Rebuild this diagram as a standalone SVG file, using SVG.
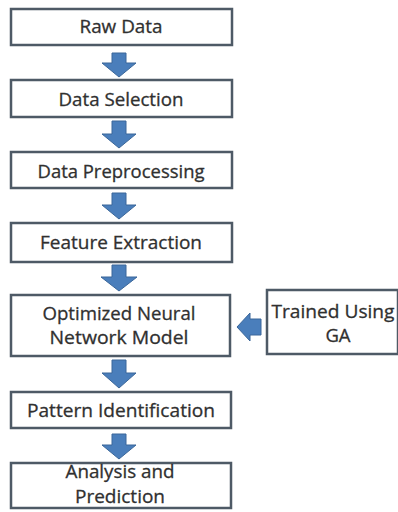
<svg xmlns="http://www.w3.org/2000/svg" width="398" height="512" viewBox="0 0 398 512">
<style>
.box{fill:#ffffff;stroke:#4e5a66;stroke-width:2.5}
.lbl{font-family:"Open Sans","Noto Sans","Liberation Sans",sans-serif;font-size:18.5px;fill:#303030;text-anchor:middle;stroke:#303030;stroke-width:0.3}
.arr{fill:#4a7ebb;stroke:#3b679a;stroke-width:1}
</style>
<rect width="398" height="512" fill="#ffffff"/>
<g id="raw-data">
<rect class="box" x="11" y="9" width="221" height="36"/>
<text class="lbl" x="121" y="33" textLength="83" lengthAdjust="spacingAndGlyphs">Raw Data</text>
</g>
<g id="data-selection">
<rect class="box" x="11" y="80" width="221" height="37"/>
<text class="lbl" x="121" y="106" textLength="125" lengthAdjust="spacingAndGlyphs">Data Selection</text>
</g>
<g id="data-preprocessing">
<rect class="box" x="11" y="152" width="221" height="36"/>
<text class="lbl" x="121" y="178" textLength="167" lengthAdjust="spacingAndGlyphs">Data Preprocessing</text>
</g>
<g id="feature-extraction">
<rect class="box" x="11" y="223" width="221" height="39"/>
<text class="lbl" x="121" y="249" textLength="162" lengthAdjust="spacingAndGlyphs">Feature Extraction</text>
</g>
<g id="optimized-nn">
<rect class="box" x="11" y="295" width="219" height="61"/>
<text class="lbl" x="119" y="320" textLength="153" lengthAdjust="spacingAndGlyphs">Optimized Neural</text>
<text class="lbl" x="119" y="344" textLength="139" lengthAdjust="spacingAndGlyphs">Network Model</text>
</g>
<g id="trained-ga">
<rect class="box" x="267" y="290" width="131" height="64"/>
<text class="lbl" x="333" y="318" textLength="123" lengthAdjust="spacingAndGlyphs">Trained Using</text>
<text class="lbl" x="338" y="342">GA</text>
</g>
<g id="pattern-identification">
<rect class="box" x="11" y="392" width="220" height="36"/>
<text class="lbl" x="121" y="417" textLength="188" lengthAdjust="spacingAndGlyphs">Pattern Identification</text>
</g>
<g id="analysis-prediction">
<rect class="box" x="11" y="463" width="220" height="45"/>
<text class="lbl" x="120" y="478" textLength="109" lengthAdjust="spacingAndGlyphs">Analysis and</text>
<text class="lbl" x="120" y="503" textLength="90" lengthAdjust="spacingAndGlyphs">Prediction</text>
</g>
<g id="connectors">
<path class="arr" d="M112 53 H126 V63 H136 L119 77 L102 63 H112 Z"/>
<path class="arr" d="M112 121 H126 V134 H136 L119 148 L102 134 H112 Z"/>
<path class="arr" d="M112 193 H126 V205 H136 L119 219 L102 205 H112 Z"/>
<path class="arr" d="M112 265 H126 V277 H137 L119 291 L101 277 H112 Z"/>
<path class="arr" d="M112 360 H126 V373 H136 L119 388 L102 373 H112 Z"/>
<path class="arr" d="M112 434 H126 V445 H136 L119 459 L102 445 H112 Z"/>
<path class="arr" d="M261 319 V335 H250 V341 L237 327 L250 313 V319 Z"/>
</g>
</svg>
